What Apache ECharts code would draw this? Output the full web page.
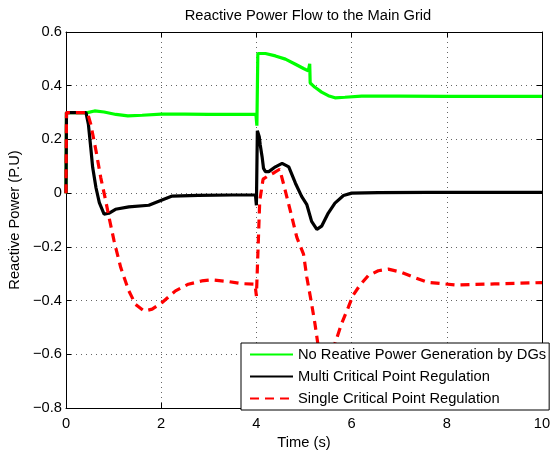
<!DOCTYPE html>
<html>
<head>
<meta charset="utf-8">
<script src="https://cdn.jsdelivr.net/npm/echarts@6/dist/echarts.min.js"></script>
<style>
  html, body { margin: 0; padding: 0; background: #fff; }
  #chart { width: 556px; height: 452px; }
</style>
</head>
<body>
<div id="chart"></div>
<script>
// Reactive power exchanged with the main grid, [time (s), Q (p.u.)]
const seriesNames = [
  'No Reative Power Generation by DGs',
  'Multi Critical Point Regulation',
  'Single Critical Point Regulation'
];

const noReactiveGen = [
  [0, 0], [0.01, 0.3], [0.45, 0.3], [0.6, 0.306], [0.8, 0.302], [1.05, 0.293],
  [1.3, 0.288], [1.6, 0.29], [2.0, 0.294], [2.5, 0.294], [3.0, 0.293], [3.5, 0.293],
  [3.99, 0.293], [4.01, 0.251], [4.03, 0.52], [4.05, 0.523], [4.19, 0.52],
  [4.40, 0.511], [4.61, 0.499], [4.82, 0.48], [4.99, 0.464], [5.09, 0.455],
  [5.11, 0.452], [5.12, 0.482], [5.13, 0.41], [5.15, 0.405], [5.23, 0.394],
  [5.37, 0.376], [5.51, 0.363], [5.65, 0.355], [5.86, 0.357], [6.21, 0.361],
  [7.0, 0.361], [8.0, 0.36], [9.0, 0.36], [10, 0.36]
];

const multiPoint = [
  [0, 0], [0.01, 0.3], [0.42, 0.3], [0.47, 0.257], [0.52, 0.17], [0.56, 0.096],
  [0.63, 0.02], [0.70, -0.035], [0.80, -0.078], [0.9, -0.075], [1.04, -0.06],
  [1.32, -0.051], [1.74, -0.045], [1.95, -0.03], [2.23, -0.011], [2.78, -0.008],
  [3.5, -0.007], [3.98, -0.007], [4.0, -0.045], [4.02, 0.232], [4.06, 0.21],
  [4.08, 0.18], [4.12, 0.135], [4.15, 0.092], [4.19, 0.08], [4.26, 0.08],
  [4.40, 0.098], [4.54, 0.111], [4.68, 0.098], [4.82, 0.037], [4.95, -0.012],
  [5.06, -0.043], [5.16, -0.105], [5.27, -0.135], [5.37, -0.123], [5.51, -0.074],
  [5.65, -0.037], [5.83, -0.009], [6.0, 0], [6.56, 0.002], [7.6, 0.003], [10, 0.003]
];

const singlePoint = [
  [0, 0], [0.01, 0.3], [0.45, 0.3], [0.52, 0.257], [0.63, 0.158], [0.73, 0.058],
  [0.835, -0.029], [0.905, -0.091], [1.01, -0.178], [1.15, -0.277], [1.32, -0.364],
  [1.46, -0.414], [1.64, -0.439], [1.81, -0.432], [2.02, -0.407], [2.30, -0.364],
  [2.57, -0.339], [2.85, -0.327], [3.06, -0.323], [3.41, -0.329], [3.69, -0.337],
  [3.97, -0.339], [4.0, -0.383], [4.07, -0.029], [4.14, 0.052], [4.25, 0.065],
  [4.38, 0.077], [4.49, 0.089], [4.59, 0.021], [4.73, -0.078], [4.85, -0.165],
  [4.99, -0.227], [5.06, -0.314], [5.16, -0.412], [5.23, -0.486], [5.29, -0.56],
  [5.42, -0.66], [5.52, -0.66], [5.65, -0.56], [5.79, -0.486], [5.93, -0.425],
  [6.03, -0.381], [6.17, -0.344], [6.35, -0.307], [6.56, -0.289], [6.77, -0.283],
  [7.05, -0.295], [7.32, -0.314], [7.60, -0.332], [8.2, -0.342], [9.0, -0.338],
  [10, -0.333]
];

const xTicks = [0, 2, 4, 6, 8, 10];
const yTicks = [-0.8, -0.6, -0.4, -0.2, 0, 0.2, 0.4, 0.6];

const FONT = 'Liberation Sans, Arial, Helvetica, sans-serif';
const FS = 14.7;
const fmtY = v => {
  const r = Math.round(v * 10) / 10;
  return r === 0 ? '0' : r.toFixed(1).replace('-', '\u2212');
};

const gridLine = { show: true, lineStyle: { color: '#666', width: 1, type: [1, 4] } };
const frame = { show: true, onZero: false, lineStyle: { color: '#000', width: 1 } };
const tick = { show: true, inside: true, length: 5, lineStyle: { color: '#000' } };

const chart = echarts.init(document.getElementById('chart'), null, { renderer: 'canvas' });
chart.setOption({
  animation: false,
  backgroundColor: '#fff',
  title: {
    text: 'Reactive Power Flow to the Main Grid',
    left: 308, top: 8, textAlign: 'center', padding: 0,
    textStyle: { fontFamily: FONT, fontSize: FS, fontWeight: 'normal', color: '#000' }
  },
  grid: {
    left: 66, right: 14, top: 32, bottom: 44,
    containLabel: false, outerBoundsMode: 'none'
  },
  legend: {
    orient: 'vertical',
    left: 241, top: 343,
    padding: [4, 3, 4, 8],
    itemWidth: 43, itemHeight: 14, itemGap: 7,
    backgroundColor: '#fff',
    borderColor: '#000', borderWidth: 1, borderRadius: 0,
    itemStyle: { opacity: 0 },
    textStyle: { fontFamily: FONT, fontSize: FS, color: '#000', lineHeight: 14 },
    data: seriesNames,
    z: 10
  },
  xAxis: [
    {
      type: 'value', position: 'bottom', min: xTicks[0], max: xTicks[xTicks.length - 1],
      interval: xTicks[1] - xTicks[0],
      name: 'Time (s)', nameLocation: 'middle', nameGap: 23,
      nameTextStyle: { fontFamily: FONT, fontSize: FS, color: '#000' },
      axisLine: frame, axisTick: tick, splitLine: gridLine,
      axisLabel: { fontFamily: FONT, fontSize: FS, color: '#000', margin: 8 }
    },
    {
      type: 'value', position: 'top', min: xTicks[0], max: xTicks[xTicks.length - 1],
      interval: xTicks[1] - xTicks[0],
      axisLine: frame, axisTick: tick, splitLine: { show: false }, axisLabel: { show: false }
    }
  ],
  yAxis: [
    {
      type: 'value', position: 'left', min: yTicks[0], max: yTicks[yTicks.length - 1],
      interval: 0.2,
      name: 'Reactive Power (P.U)', nameLocation: 'middle', nameGap: 40, nameRotate: 90,
      nameTextStyle: { fontFamily: FONT, fontSize: FS, color: '#000' },
      axisLine: frame, axisTick: tick, splitLine: gridLine,
      axisLabel: { fontFamily: FONT, fontSize: FS, color: '#000', margin: 4, formatter: fmtY }
    },
    {
      type: 'value', position: 'right', min: yTicks[0], max: yTicks[yTicks.length - 1],
      interval: 0.2,
      axisLine: frame, axisTick: tick, splitLine: { show: false }, axisLabel: { show: false }
    }
  ],
  series: [
    {
      name: seriesNames[0], type: 'line', data: noReactiveGen, symbol: 'none',
      lineStyle: { color: '#00ff00', width: 3.2 }, itemStyle: { color: '#00ff00' }
    },
    {
      name: seriesNames[1], type: 'line', data: multiPoint, symbol: 'none',
      lineStyle: { color: '#000000', width: 3.2 }, itemStyle: { color: '#000000' }
    },
    {
      name: seriesNames[2], type: 'line', data: singlePoint, symbol: 'none',
      lineStyle: { color: '#ff0000', width: 3.2, type: [9, 6] }, itemStyle: { color: '#ff0000' }
    }
  ]
});
</script>
</body>
</html>
